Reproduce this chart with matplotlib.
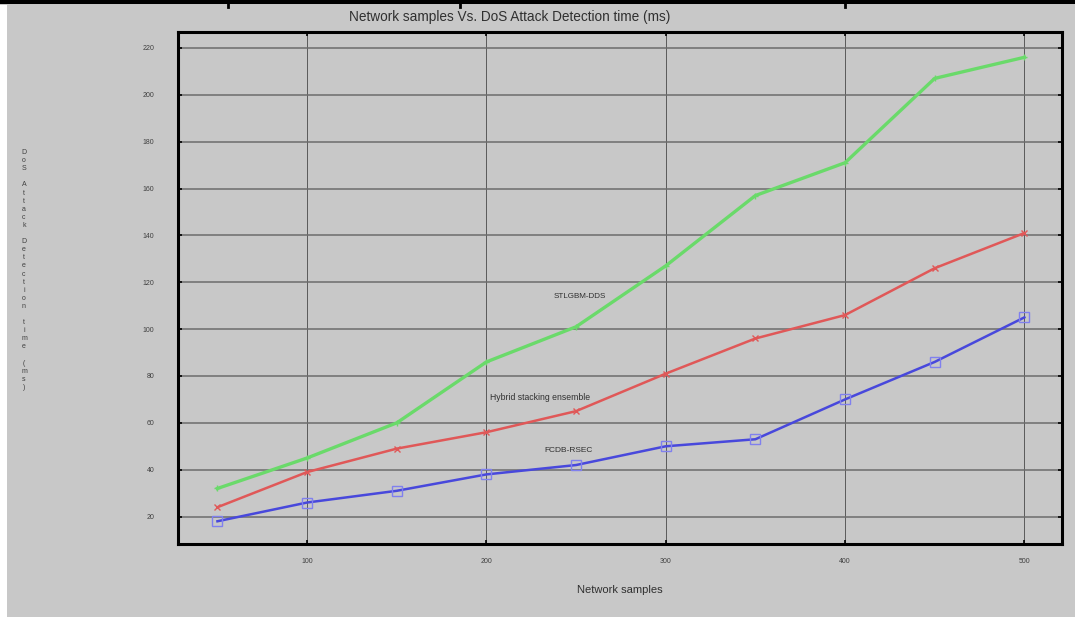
import numpy as np
import matplotlib.pyplot as plt
from matplotlib.lines import Line2D
from matplotlib.patches import Rectangle

plt.rcParams['font.family'] = ['Liberation Sans', 'DejaVu Sans']

samples = [50, 100, 150, 200, 250, 300, 350, 400, 450, 500]
stlgbm = [32, 45, 60, 86, 101, 127, 157, 171, 207, 216]
hybrid = [24, 39, 49, 56, 65, 81, 96, 106, 126, 141]
fcdb = [18, 26, 31, 38, 42, 50, 53, 70, 86, 105]

x_ticks = [100, 200, 300, 400, 500]
y_ticks = [20, 40, 60, 80, 100, 120, 140, 160, 180, 200, 220]

fig = plt.figure(figsize=(10.75, 6.17), dpi=100, facecolor='white')

# grey page area and the table border across the top
fig.patches.append(Rectangle((7 / 1075, 0), 1, 1 - 5 / 617, transform=fig.transFigure,
                             facecolor='#c8c8c8', edgecolor='none', zorder=-5))
fig.lines.append(Line2D([0, 1], [1 - 2 / 617, 1 - 2 / 617], transform=fig.transFigure,
                        color='black', linewidth=3.2))
for sx in [228, 460, 845]:
    fig.lines.append(Line2D([sx / 1075, sx / 1075], [1, 1 - 7 / 617], transform=fig.transFigure,
                            color='black', linewidth=2))

ax = fig.add_axes([178 / 1075, 73 / 617, (1062 - 178) / 1075, (544 - 32) / 617])
ax.set_facecolor('#c8c8c8')

ax.plot(samples, stlgbm, color='#6ada6a', linewidth=2.4, marker='+', markersize=4,
        solid_joinstyle='round')
ax.plot(samples, hybrid, color='#e05858', linewidth=1.8, marker='x', markersize=4,
        markeredgewidth=1, solid_joinstyle='round')
ax.plot(samples, fcdb, color='#4848dc', linewidth=1.8, marker='s', markersize=7,
        markerfacecolor='none', markeredgecolor='#8080ee', markeredgewidth=1,
        solid_joinstyle='round')

ax.text(252, 114, 'STLGBM-DDS', fontsize=5.8, color='#303030', ha='center', va='center')
ax.text(230, 71, 'Hybrid stacking ensemble', fontsize=6.2, color='#303030', ha='center', va='center')
ax.text(246, 48, 'FCDB-RSEC', fontsize=6, color='#303030', ha='center', va='center')

ax.set_xlim(28, 521)
ax.set_ylim(8.3, 226.8)
ax.set_xticks(x_ticks)
ax.set_yticks(y_ticks)
ax.tick_params(direction='in', length=3, width=1.2, labelsize=5, labelcolor='#404040',
               top=True, right=True, pad=10)
ax.tick_params(axis='y', pad=17)

ax.grid(True, axis='y', color='#6c6c6c', linewidth=1.1)
ax.grid(True, axis='x', color='#5a5a5a', linewidth=0.7)
for s in ax.spines.values():
    s.set_linewidth(2.2)
    s.set_color('black')

fig.text(510 / 1075, 1 - 17 / 617, 'Network samples Vs. DoS Attack Detection time (ms)',
         fontsize=9.8, color='#303030', ha='center', va='center')
fig.text(620 / 1075, 1 - 590 / 617, 'Network samples', fontsize=8, color='#303030',
         ha='center', va='center')
ylab = 'DoS Attack Detection time (ms)'
fig.text(24 / 1075, 1 - 270 / 617, '\n'.join(ylab), fontsize=5, color='#404040',
         ha='center', va='center', linespacing=1.22)

fig.savefig('out.png', dpi=100, facecolor=fig.get_facecolor())
